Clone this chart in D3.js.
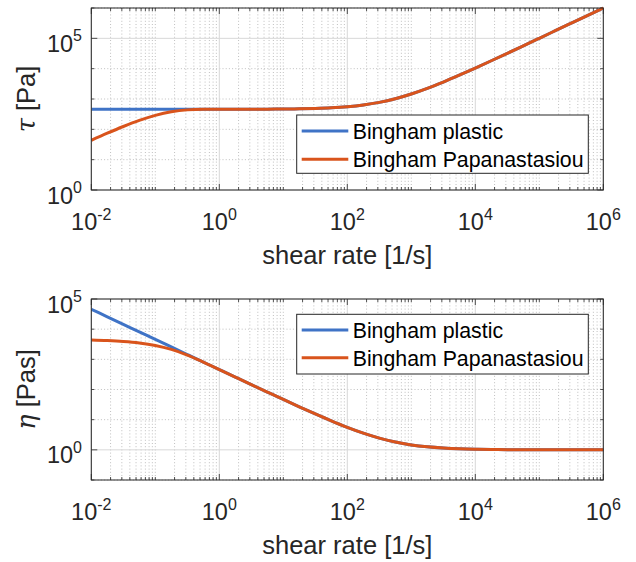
<!DOCTYPE html>
<html><head><meta charset="utf-8">
<script src="https://cdn.jsdelivr.net/npm/d3@7"></script>
<style>body{margin:0;background:#fff;} svg{display:block;font-family:"Liberation Sans",Arial,Helvetica,sans-serif;}</style>
</head><body><svg id="c" width="636" height="562"></svg>
<script>
// ---- data ----
const shearRate = [0.01,0.017783,0.031623,0.056234,0.1,0.177828,0.316228,0.562341,1,1.77828,3.16228,5.62341,10,17.7828,31.6228,56.2341,100,177.828,316.228,562.341,1000,1778.28,3162.28,5623.41,10000,17782.8,31622.8,56234.1,100000,177828,316228,562341,1000000];
const tauBingham = [457,457,457,457.1,457.1,457.2,457.3,457.6,458,458.8,460.2,462.6,467,474.8,488.6,513.2,557,634.8,773.2,1019.3,1457,2235,3619,6080,10457,18240,32080,56691,100457,178285,316685,562798,1000457];
const tauPapanastasiou = [43.5,74.5,123.9,196.6,289,380,438,455.9,458,458.8,460.2,462.6,467,474.8,488.6,513.2,557,634.8,773.2,1019.3,1457,2235,3619,6080,10457,18240,32080,56691,100457,178285,316685,562798,1000457];
const etaBingham = [45701,25700,14452,8128,4571,2571,1446,813.7,458,258,145.5,82.27,46.7,26.7,15.45,9.127,5.57,3.57,2.445,1.813,1.457,1.257,1.1445,1.0813,1.0457,1.0257,1.0145,1.0081,1.0046,1.0026,1.0014,1.0008,1.0005];
const etaPapanastasiou = [4350,4188,3919,3497,2890,2137,1385,810.7,458,258,145.5,82.27,46.7,26.7,15.45,9.127,5.57,3.57,2.445,1.813,1.457,1.257,1.1445,1.0813,1.0457,1.0257,1.0145,1.0081,1.0046,1.0026,1.0014,1.0008,1.0005];
const seriesNames = ["Bingham plastic","Bingham Papanastasiou"];
const xTickExps = [-2,0,2,4,6];
const tauTickExps = [0,5];
const etaTickExps = [0,5];
const xLabel = "shear rate [1/s]";

// ---- styling ----
const colors = ["#3f73c6","#d9541c"];
const axCol = "#262626";
const svg = d3.select("#c");
const X0 = 91.3, X1 = 603.3;
const TF = 23.5, SF = 16;

const panels = [
  {top:8, bottom:190, yDom:[1,1e6], yExps:tauTickExps, sym:"τ", unit:" [Pa]",
   series:[tauBingham,tauPapanastasiou], leg:{top:115,bottom:173.3,rows:[131,159.3]}, id:"p1"},
  {top:299, bottom:480, yDom:[0.1,1e5], yExps:etaTickExps, sym:"η", unit:" [Pas]",
   series:[etaBingham,etaPapanastasiou], leg:{top:314.3,bottom:374,rows:[330,357.7]}, id:"p2"}
];

panels.forEach(P => {
  const x = d3.scaleLog().domain([1e-2,1e6]).range([X0,X1]);
  const y = d3.scaleLog().domain(P.yDom).range([P.bottom,P.top]);
  const g = svg.append("g");
  const xMajor = xTickExps.map(e => Math.pow(10,e));
  const yMajor = P.yExps.map(e => Math.pow(10,e));
  const isMajor = (v, arr) => arr.some(a => Math.abs(Math.log10(v)-Math.log10(a)) < 1e-9);

  const xMinor = [];
  for (let k=-2;k<6;k++) for (let m=1;m<10;m++){ const v=m*Math.pow(10,k); if(!isMajor(v,xMajor)) xMinor.push(v); }
  const yMinor = [];
  const lo = Math.round(Math.log10(P.yDom[0])), hi = Math.round(Math.log10(P.yDom[1]));
  for (let k=lo;k<=hi;k++){ const v=Math.pow(10,k); if(!isMajor(v,yMajor)) yMinor.push(v); }

  // minor grid
  g.selectAll(null).data(xMinor).enter().append("line")
    .attr("x1",d=>x(d)).attr("x2",d=>x(d)).attr("y1",P.top).attr("y2",P.bottom)
    .attr("stroke","#b9b9b9").attr("stroke-width",0.9).attr("stroke-dasharray","1 2.2");
  g.selectAll(null).data(yMinor).enter().append("line")
    .attr("y1",d=>y(d)).attr("y2",d=>y(d)).attr("x1",X0).attr("x2",X1)
    .attr("stroke","#b9b9b9").attr("stroke-width",0.9).attr("stroke-dasharray","1 2.2");
  // major grid
  g.selectAll(null).data(xMajor).enter().append("line")
    .attr("x1",d=>x(d)).attr("x2",d=>x(d)).attr("y1",P.top).attr("y2",P.bottom)
    .attr("stroke","#d8d8d8").attr("stroke-width",1);
  g.selectAll(null).data(yMajor).enter().append("line")
    .attr("y1",d=>y(d)).attr("y2",d=>y(d)).attr("x1",X0).attr("x2",X1)
    .attr("stroke","#d8d8d8").attr("stroke-width",1);

  // ticks (inward, all four sides)
  const tk = g.append("g").attr("stroke",axCol).attr("stroke-width",0.8);
  [[xMinor,3],[xMajor,6]].forEach(([arr,len]) => {
    arr.forEach(v => {
      tk.append("line").attr("x1",x(v)).attr("x2",x(v)).attr("y1",P.bottom).attr("y2",P.bottom-len);
      tk.append("line").attr("x1",x(v)).attr("x2",x(v)).attr("y1",P.top).attr("y2",P.top+len);
    });
  });
  [[yMinor,3],[yMajor,6]].forEach(([arr,len]) => {
    arr.forEach(v => {
      tk.append("line").attr("y1",y(v)).attr("y2",y(v)).attr("x1",X0).attr("x2",X0+len);
      tk.append("line").attr("y1",y(v)).attr("y2",y(v)).attr("x1",X1).attr("x2",X1-len);
    });
  });

  // data lines
  svg.append("clipPath").attr("id","clip"+P.id).append("rect")
    .attr("x",X0).attr("y",P.top-2).attr("width",X1-X0+2).attr("height",P.bottom-P.top+2);
  const line = d3.line().x((d,i)=>x(shearRate[i])).y(d=>y(d)).curve(d3.curveMonotoneX);
  P.series.forEach((s,i) => {
    g.append("path").datum(s).attr("d",line).attr("fill","none")
      .attr("stroke",colors[i]).attr("stroke-width",3).attr("clip-path","url(#clip"+P.id+")");
  });

  // frame
  g.append("rect").attr("x",X0).attr("y",P.top).attr("width",X1-X0).attr("height",P.bottom-P.top)
    .attr("fill","none").attr("stroke",axCol).attr("stroke-width",1);

  // x tick labels
  xTickExps.forEach(e => {
    const t = g.append("text").attr("x",x(Math.pow(10,e))).attr("y",P.bottom+40)
      .attr("text-anchor","middle").attr("font-size",TF).attr("fill",axCol);
    t.append("tspan").text("10");
    t.append("tspan").attr("dy",-10.5).attr("font-size",SF).text(e<0?"-"+Math.abs(e):String(e));
  });
  // y tick labels
  P.yExps.forEach(e => {
    const t = g.append("text").attr("x",82).attr("y",y(Math.pow(10,e))+13.5)
      .attr("text-anchor","end").attr("font-size",TF).attr("fill",axCol);
    t.append("tspan").text("10");
    t.append("tspan").attr("dy",-10.5).attr("font-size",SF).text(String(e));
  });

  // axis labels
  g.append("text").attr("x",(X0+X1)/2).attr("y",P.bottom+74).attr("text-anchor","middle")
    .attr("font-size",25.5).attr("fill",axCol).text(xLabel);
  const yl = g.append("text").attr("transform",`translate(35,${(P.top+P.bottom)/2}) rotate(-90)`)
    .attr("text-anchor","middle").attr("font-size",25.5).attr("fill",axCol);
  yl.append("tspan").attr("font-family","'DejaVu Serif','Liberation Serif',serif").attr("font-style","italic").text(P.sym);
  yl.append("tspan").text(P.unit);

  // legend
  const L = P.leg;
  g.append("rect").attr("x",296.7).attr("y",L.top).attr("width",588.3-296.7).attr("height",L.bottom-L.top)
    .attr("fill","#fff").attr("stroke",axCol).attr("stroke-width",1);
  seriesNames.forEach((n,i) => {
    g.append("line").attr("x1",301.7).attr("x2",348.3).attr("y1",L.rows[i]).attr("y2",L.rows[i])
      .attr("stroke",colors[i]).attr("stroke-width",3);
    g.append("text").attr("x",352.7).attr("y",L.rows[i]+8).attr("font-size",21.3).attr("fill","#000").text(n);
  });
});
</script></body></html>
